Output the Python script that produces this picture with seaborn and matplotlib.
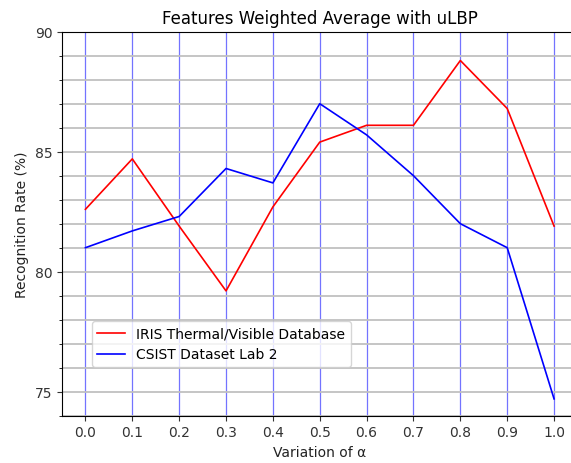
import pandas as pd
import matplotlib
matplotlib.use("Agg")
import matplotlib.pyplot as plt
import seaborn as sns
from matplotlib.ticker import MultipleLocator

# данные
alpha = [0.0, 0.1, 0.2, 0.3, 0.4, 0.5, 0.6, 0.7, 0.8, 0.9, 1.0]
iris = [82.6, 84.7, 81.9, 79.2, 82.7, 85.4, 86.1, 86.1, 88.8, 86.8, 81.9]
csist = [81.0, 81.7, 82.3, 84.3, 83.7, 87.0, 85.7, 84.0, 82.0, 81.0, 74.7]

df = pd.DataFrame({
    "alpha": alpha * 2,
    "rate": iris + csist,
    "db": ["IRIS Thermal/Visible Database"] * len(alpha) + ["CSIST Dataset Lab 2"] * len(alpha),
})

fig = plt.figure(figsize=(5.71, 4.64), dpi=100)
# оси немного выходят за правый край, как на исходнике
ax = fig.add_axes([62 / 571, (464 - 416.7) / 464, 515.5 / 571, 384 / 464])

sns.lineplot(data=df, x="alpha", y="rate", hue="db",
             palette=["red", "blue"], linewidth=1.2, ax=ax)

ax.set_xlim(-0.05, 1.05)
ax.set_ylim(74, 90)
ax.set_xticks(alpha)
ax.yaxis.set_major_locator(MultipleLocator(5))
ax.yaxis.set_minor_locator(MultipleLocator(1))
ax.spines["right"].set_visible(False)

ax.grid(True, which="both", axis="y", color="#c0c0c0", linewidth=1.3)
ax.grid(True, which="major", axis="x", color="blue", alpha=0.55, linewidth=0.9)
ax.set_axisbelow(True)
ax.tick_params(colors="#333333", labelsize=10)

ax.set_title("Features Weighted Average with uLBP", fontsize=12)
ax.set_xlabel("Variation of α", fontsize=10, color="#222222")
ax.set_ylabel("Recognition Rate (%)", fontsize=10, color="#222222")

ax.legend(title=None, loc="lower left", bbox_to_anchor=(0.058, 0.127),
          borderaxespad=0, fontsize=10)

fig.savefig("out.png", dpi=100)
